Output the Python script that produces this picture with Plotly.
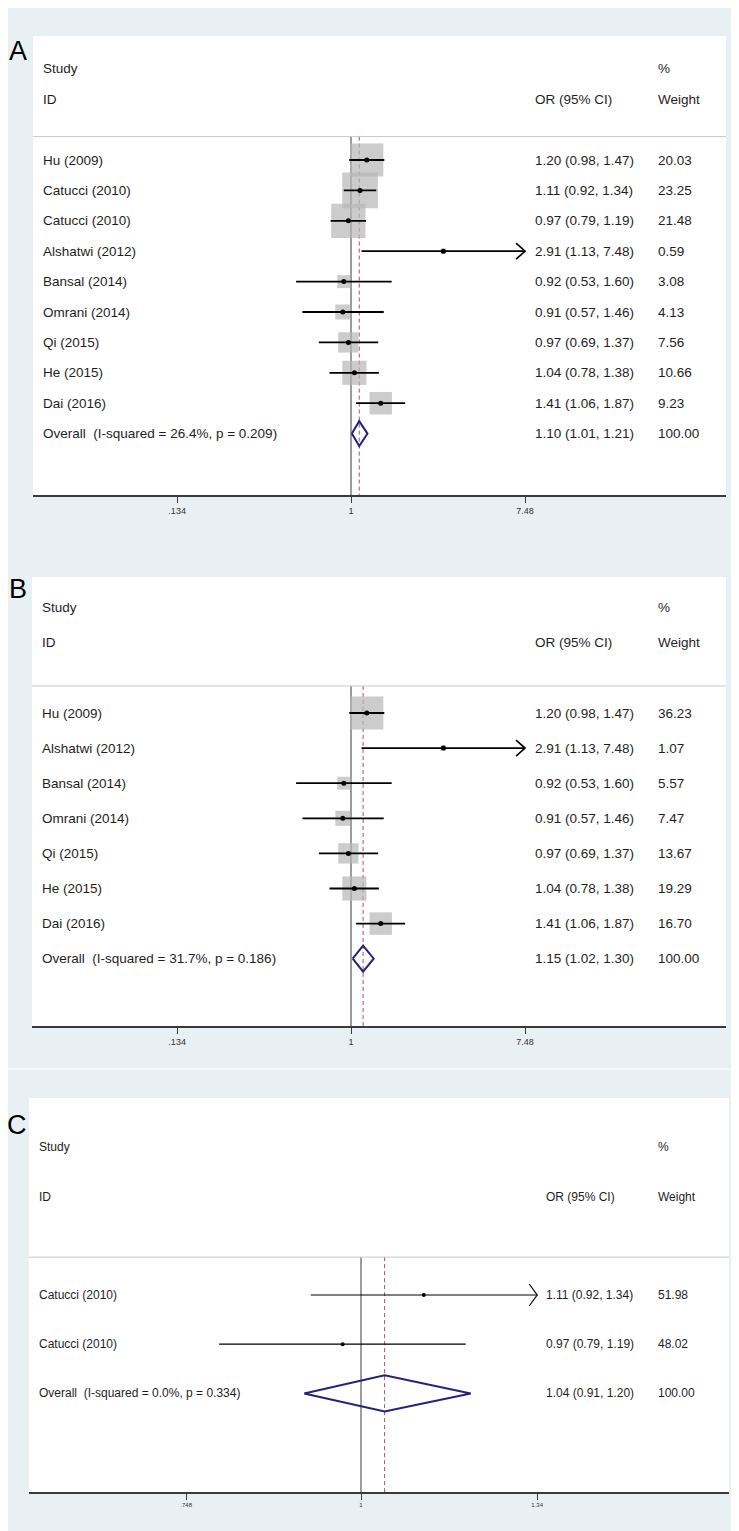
import numpy as np
import plotly.graph_objects as go

# ---------------- data ----------------
a_studies = ["Hu (2009)", "Catucci (2010)", "Catucci (2010)", "Alshatwi (2012)", "Bansal (2014)",
             "Omrani (2014)", "Qi (2015)", "He (2015)", "Dai (2016)"]
a_or = [1.20, 1.11, 0.97, 2.91, 0.92, 0.91, 0.97, 1.04, 1.41]
a_lo = [0.98, 0.92, 0.79, 1.13, 0.53, 0.57, 0.69, 0.78, 1.06]
a_hi = [1.47, 1.34, 1.19, 7.48, 1.60, 1.46, 1.37, 1.38, 1.87]
a_weight = [20.03, 23.25, 21.48, 0.59, 3.08, 4.13, 7.56, 10.66, 9.23]
a_overall = [1.10, 1.01, 1.21]
a_overall_weight = 100.00
a_het = "Overall  (I-squared = 26.4%, p = 0.209)"
a_ticks = [0.134, 1, 7.48]
a_ticktext = [".134", "1", "7.48"]

b_studies = ["Hu (2009)", "Alshatwi (2012)", "Bansal (2014)", "Omrani (2014)", "Qi (2015)",
             "He (2015)", "Dai (2016)"]
b_or = [1.20, 2.91, 0.92, 0.91, 0.97, 1.04, 1.41]
b_lo = [0.98, 1.13, 0.53, 0.57, 0.69, 0.78, 1.06]
b_hi = [1.47, 7.48, 1.60, 1.46, 1.37, 1.38, 1.87]
b_weight = [36.23, 1.07, 5.57, 7.47, 13.67, 19.29, 16.70]
b_overall = [1.15, 1.02, 1.30]
b_overall_weight = 100.00
b_het = "Overall  (I-squared = 31.7%, p = 0.186)"
b_ticks = [0.134, 1, 7.48]
b_ticktext = [".134", "1", "7.48"]

c_studies = ["Catucci (2010)", "Catucci (2010)"]
c_or = [1.11, 0.97]
c_lo = [0.92, 0.79]
c_hi = [1.34, 1.19]
c_weight = [51.98, 48.02]
c_overall = [1.04, 0.91, 1.20]
c_overall_weight = 100.00
c_het = "Overall  (I-squared = 0.0%, p = 0.334)"
c_ticks = [0.748, 1, 1.34]
c_ticktext = [".748", "1", "1.34"]

# ---------------- layout / style ----------------
W, H = 739, 1531
BG = "#e8f0f3"
FONT = "Liberation Sans, Arial, sans-serif"

panels = [
    dict(letter="A", studies=a_studies, est=a_or, lo=a_lo, hi=a_hi, wt=a_weight, ov=a_overall,
         ovw=a_overall_weight, het=a_het, ticks=a_ticks, ticktext=a_ticktext,
         left=25, right=718, top=28, bottom=487, row0=152, rowh=30.4, x1px=343, pxln=86.5,
         box=7.4, font=FONT, fs=13.5, tfs=9, lw=1.8, dot=5, dh=0.41, orx=525, wx=648,
         letter_xy=(10, 43), chev=(9, 8, 1.6)),
    dict(letter="B", studies=b_studies, est=b_or, lo=b_lo, hi=b_hi, wt=b_weight, ov=b_overall,
         ovw=b_overall_weight, het=b_het, ticks=b_ticks, ticktext=b_ticktext,
         left=24, right=718, top=569, bottom=1018, row0=705, rowh=35.1, x1px=343, pxln=86.5,
         box=5.5, font=FONT, fs=13.5, tfs=9, lw=1.8, dot=5, dh=0.37, orx=525, wx=648,
         letter_xy=(10, 581), chev=(9, 8, 1.6)),
    dict(letter="C", studies=c_studies, est=c_or, lo=c_lo, hi=c_hi, wt=c_weight, ov=c_overall,
         ovw=c_overall_weight, het=c_het, ticks=c_ticks, ticktext=c_ticktext,
         left=21, right=721, top=1090, bottom=1484, row0=1287, rowh=49.2, x1px=353, pxln=602,
         box=0, font=FONT, fs=12, tfs=6, lw=1.2, dot=4, dh=0.37, orx=536, wx=648,
         letter_xy=(9, 1117), chev=(8, 11, 1.2)),
]

fig = go.Figure()
layout = dict(width=W, height=H, margin=dict(l=0, r=0, t=0, b=0),
              paper_bgcolor=BG, plot_bgcolor="white", showlegend=False)
annotations = []
shapes = []

for i, p in enumerate(panels):
    n = i + 1
    xa = "x" if n == 1 else f"x{n}"
    ya = "y" if n == 1 else f"y{n}"
    xkey = "xaxis" if n == 1 else f"xaxis{n}"
    ykey = "yaxis" if n == 1 else f"yaxis{n}"

    # axis ranges (linear in ln(OR)), chosen to match panel geometry
    xr = [(p["left"] - p["x1px"]) / p["pxln"], (p["right"] - p["x1px"]) / p["pxln"]]
    yr = [(p["bottom"] - p["row0"]) / p["rowh"], (p["top"] - p["row0"]) / p["rowh"]]
    sep = -0.77
    nstud = len(p["studies"])
    ov_row = nstud

    layout[xkey] = dict(domain=[p["left"] / W, p["right"] / W], range=xr, anchor=ya,
                        showgrid=False, zeroline=False, showline=True, linecolor="#3a3a3a",
                        linewidth=1.5, ticks="outside", ticklen=6, tickwidth=1.2,
                        tickcolor="#3a3a3a", tickvals=list(np.log(p["ticks"])),
                        ticktext=p["ticktext"], tickfont=dict(family=FONT, size=p["tfs"], color="#333"),
                        fixedrange=True)
    layout[ykey] = dict(domain=[1 - p["bottom"] / H, 1 - p["top"] / H], range=yr, anchor=xa,
                        visible=False, showgrid=False, zeroline=False, fixedrange=True)

    rows = np.arange(nstud)
    lest = np.log(p["est"])
    llo = np.log(p["lo"])
    lhi = np.log(p["hi"])

    # separator under header
    shapes.append(dict(type="line", xref=f"{xa} domain", x0=0, x1=1, yref=ya, y0=sep, y1=sep,
                       line=dict(color="#c9c9c9", width=1)))

    # no-effect line at OR = 1
    fig.add_trace(go.Scatter(x=[0, 0], y=[sep, yr[0]], mode="lines", xaxis=xa, yaxis=ya,
                             line=dict(color="#3a3a3a", width=1), hoverinfo="skip"))
    # overall effect dashed line
    lov = np.log(p["ov"])
    fig.add_trace(go.Scatter(x=[lov[0], lov[0]], y=[sep, yr[0]], mode="lines", xaxis=xa, yaxis=ya,
                             line=dict(color="#a5506a", width=1, dash="4px,3px"), hoverinfo="skip"))

    # weight boxes
    if p["box"] > 0:
        fig.add_trace(go.Scatter(x=lest, y=rows, mode="markers", xaxis=xa, yaxis=ya,
                                 marker=dict(symbol="square", color="#b7b7b7",
                                             size=p["box"] * np.sqrt(p["wt"]), line=dict(width=0)),
                                 hoverinfo="skip"))
    # CI lines
    xs, ys = [], []
    for r in range(nstud):
        xs += [llo[r], lhi[r], None]
        ys += [r, r, None]
    fig.add_trace(go.Scatter(x=xs, y=ys, mode="lines", xaxis=xa, yaxis=ya,
                             line=dict(color="black", width=p["lw"]), hoverinfo="skip"))
    # point estimates
    fig.add_trace(go.Scatter(x=lest, y=rows, mode="markers", xaxis=xa, yaxis=ya,
                             marker=dict(symbol="circle", color="black", size=p["dot"]),
                             hoverinfo="skip"))
    # open chevron arrow heads where the CI reaches the axis limit
    dxp, dyp, cw = p["chev"]
    ax_, ay_ = [], []
    for r in range(nstud):
        if p["hi"][r] >= p["ticks"][-1]:
            tip = lhi[r]
            ax_ += [tip - dxp / p["pxln"], tip, tip - dxp / p["pxln"], None]
            ay_ += [r - dyp / p["rowh"], r, r + dyp / p["rowh"], None]
    if ax_:
        fig.add_trace(go.Scatter(x=ax_, y=ay_, mode="lines", xaxis=xa, yaxis=ya,
                                 line=dict(color="black", width=cw), hoverinfo="skip"))
    # overall diamond
    fig.add_trace(go.Scatter(x=[lov[1], lov[0], lov[2], lov[0], lov[1]],
                             y=[ov_row, ov_row - p["dh"], ov_row, ov_row + p["dh"], ov_row],
                             mode="lines", xaxis=xa, yaxis=ya,
                             line=dict(color="#23237a", width=2), hoverinfo="skip"))

    # text columns
    txt = dict(xref="paper", yref=ya, xanchor="left", yanchor="middle", showarrow=False,
               font=dict(family=p["font"], size=p["fs"], color="#1e1e1e"))
    lx = (p["left"] + 8) / W
    annotations.append(dict(txt, x=lx, y=-3, text="Study"))
    annotations.append(dict(txt, x=lx, y=-2, text="ID"))
    annotations.append(dict(txt, x=p["orx"] / W, y=-2, text="OR (95% CI)"))
    annotations.append(dict(txt, x=p["wx"] / W, y=-3, text="%"))
    annotations.append(dict(txt, x=p["wx"] / W, y=-2, text="Weight"))
    for r in range(nstud):
        annotations.append(dict(txt, x=lx, y=r, text=p["studies"][r]))
        annotations.append(dict(txt, x=p["orx"] / W, y=r,
                                text=f"{p['est'][r]:.2f} ({p['lo'][r]:.2f}, {p['hi'][r]:.2f})"))
        annotations.append(dict(txt, x=p["wx"] / W, y=r, text=f"{p['wt'][r]:.2f}"))
    annotations.append(dict(txt, x=lx, y=ov_row, text=p["het"]))
    annotations.append(dict(txt, x=p["orx"] / W, y=ov_row,
                            text=f"{p['ov'][0]:.2f} ({p['ov'][1]:.2f}, {p['ov'][2]:.2f})"))
    annotations.append(dict(txt, x=p["wx"] / W, y=ov_row, text=f"{p['ovw']:.2f}"))

    # panel letter
    annotations.append(dict(xref="paper", yref="paper", x=p["letter_xy"][0] / W,
                            y=1 - p["letter_xy"][1] / H, xanchor="center", yanchor="middle",
                            text=p["letter"], showarrow=False,
                            font=dict(family=FONT, size=27, color="black")))

# faint boundary line between the stacked images
shapes.append(dict(type="line", xref="paper", yref="paper", x0=0, x1=1,
                   y0=1 - 1061 / H, y1=1 - 1061 / H, line=dict(color="white", width=1)))

layout["annotations"] = annotations
layout["shapes"] = shapes
fig.update_layout(**layout)
fig.write_html("out.html")
